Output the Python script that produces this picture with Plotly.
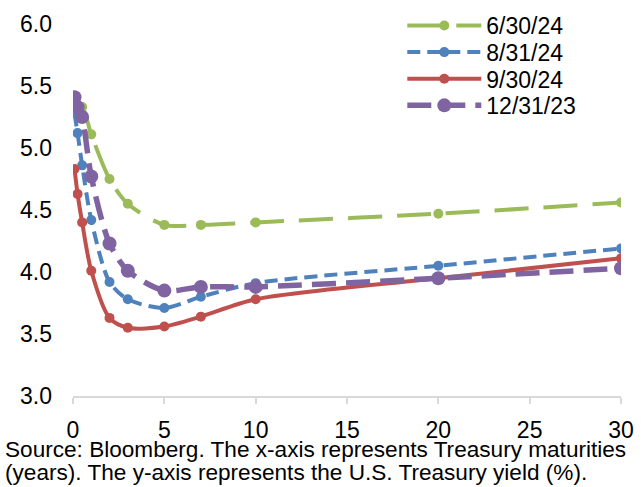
import plotly.graph_objects as go

maturities = [1/12, 0.25, 0.5, 1, 2, 3, 5, 7, 10, 20, 30]
y_jun24 = [5.31, 5.33, 5.33, 5.11, 4.75, 4.55, 4.38, 4.38, 4.40, 4.47, 4.56]
y_aug24 = [5.28, 5.12, 4.86, 4.42, 3.92, 3.78, 3.71, 3.80, 3.91, 4.05, 4.19]
y_sep24 = [4.83, 4.63, 4.40, 4.01, 3.63, 3.55, 3.56, 3.64, 3.78, 3.95, 4.11]
y_dec23 = [5.41, 5.33, 5.25, 4.77, 4.23, 4.01, 3.85, 3.88, 3.88, 3.95, 4.03]

series_names = ["6/30/24", "8/31/24", "9/30/24", "12/31/23"]
x_ticks = [0, 5, 10, 15, 20, 25, 30]
y_ticks = [3.0, 3.5, 4.0, 4.5, 5.0, 5.5, 6.0]

FONT = "Liberation Sans, Arial, sans-serif"

styles = [
    dict(color="#9BBB59", width=4, dash="34px,15px", msize=10),
    dict(color="#4F81BD", width=4, dash="13px,7px", msize=10),
    dict(color="#C0504D", width=4, dash="solid", msize=10),
    dict(color="#8064A2", width=5.5, dash="24px,10px", msize=14),
]

W, H = 643, 487
L, R, T, B = 72.7, 22.3, 23.5, 91
pw, ph = W - L - R, H - T - B

legend_ids = ["legend", "legend2", "legend3", "legend4"]
legend_centers = [25, 51.7, 78.3, 105]

fig = go.Figure()
for name, ys, st, lid in zip(series_names, [y_jun24, y_aug24, y_sep24, y_dec23], styles, legend_ids):
    fig.add_trace(go.Scatter(
        x=maturities, y=ys, name=name, mode="lines+markers", legend=lid,
        line=dict(color=st["color"], width=st["width"], dash=st["dash"], shape="spline", smoothing=0.8),
        marker=dict(color=st["color"], size=st["msize"]),
    ))

legend_layout = {}
for lid, yc in zip(legend_ids, legend_centers):
    legend_layout[lid] = dict(
        x=(402 - L) / pw, xanchor="left",
        y=(H - B - yc) / ph, yanchor="middle",
        font=dict(size=23, family=FONT, color="#000000"),
        itemwidth=74, bgcolor="rgba(0,0,0,0)",
    )

fig.update_layout(
    width=W, height=H,
    margin=dict(l=L, r=R, t=T, b=B, autoexpand=False),
    paper_bgcolor="white", plot_bgcolor="white",
    font=dict(family=FONT, size=23, color="#000000"),
    showlegend=True,
    xaxis=dict(
        range=[0, 30], tickvals=x_ticks, ticktext=[str(v) for v in x_ticks],
        showgrid=False, zeroline=False, showline=True, linecolor="#D9D9D9", linewidth=1.5,
        ticks="outside", ticklen=6, tickcolor="#D9D9D9", tickwidth=1.5,
        ticklabelstandoff=7,
        tickfont=dict(size=23, family=FONT),
    ),
    yaxis=dict(
        range=[3, 6], tickvals=y_ticks, ticktext=[f"{v:.1f}" for v in y_ticks],
        showgrid=False, zeroline=False, showline=False, ticks="",
        ticklabelstandoff=20,
        tickfont=dict(size=23, family=FONT),
    ),
    **legend_layout,
)

lines = [
    "Source: Bloomberg. The x-axis represents Treasury maturities",
    "(years). The y-axis represents the U.S. Treasury yield (%).",
]
for i, txt in enumerate(lines):
    fig.add_annotation(
        text=txt, xref="paper", yref="paper",
        x=(3 - L) / pw, xanchor="left",
        y=-(450 + 22.5 * i - (H - B)) / ph, yanchor="middle",
        showarrow=False, font=dict(size=22.6, family=FONT, color="#000000"),
    )

fig.write_html(
    "out.html",
    config={"displayModeBar": False},
    post_script="document.body.style.margin='0';document.body.style.overflow='hidden';",
)
